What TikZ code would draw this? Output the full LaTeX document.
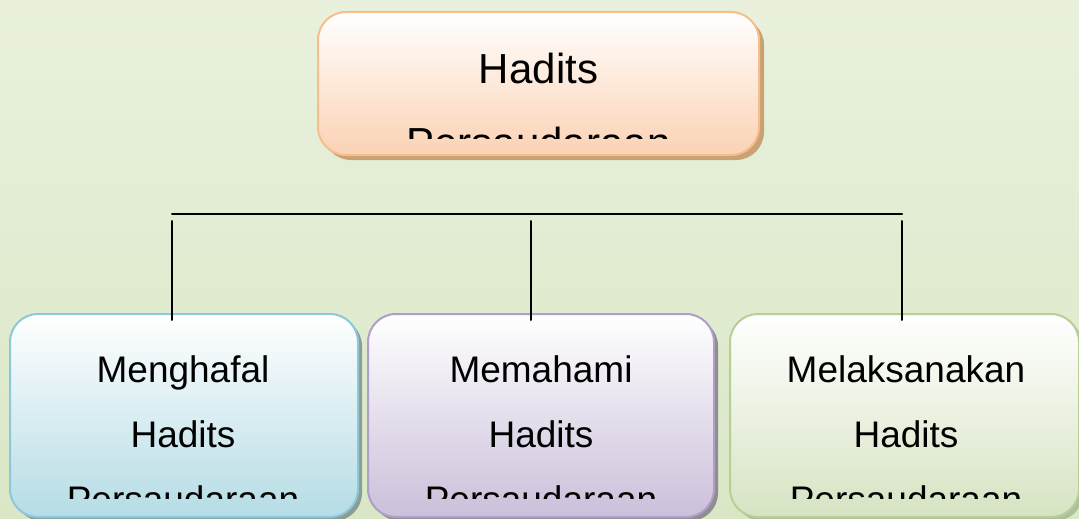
\documentclass[tikz,border=0pt]{standalone}
\usepackage{fontspec}
\setmainfont{Liberation Sans}
\usetikzlibrary{shadows}
\definecolor{bgtop}{HTML}{E9F1DD}
\definecolor{bgbot}{HTML}{DAE7C6}
\definecolor{orline}{HTML}{F7BE8C}
\definecolor{orfill}{HTML}{FBD2B4}
\definecolor{orshad}{HTML}{C9A273}
\definecolor{blline}{HTML}{8CC8DA}
\definecolor{blfill}{HTML}{B5DCE5}
\definecolor{blshad}{HTML}{8A9E93}
\definecolor{puline}{HTML}{AE9EC8}
\definecolor{pufill}{HTML}{CBBFDA}
\definecolor{pushad}{HTML}{8E8E8E}
\definecolor{grline}{HTML}{B7CF97}
\definecolor{grfill}{HTML}{D6E3C2}
\definecolor{grshad}{HTML}{AFBE9C}
\begin{document}
\begin{tikzpicture}[x=1pt,y=-1pt,line cap=round,line join=round,
	box/.style={rectangle,rounded corners=28pt,line width=2pt,inner sep=0pt,outer sep=0pt,minimum height=203pt},
	topbox/.style={box,draw=orline,top color=white,bottom color=orfill,minimum width=441pt,minimum height=143pt,
		drop shadow={shadow xshift=5pt,shadow yshift=-5pt,fill=orshad,opacity=1}},
	bluebox/.style={box,draw=blline,top color=white,bottom color=blfill,minimum width=348pt,
		drop shadow={shadow xshift=4pt,shadow yshift=-4pt,fill=blshad,opacity=1}},
	purplebox/.style={box,draw=puline,top color=white,bottom color=pufill,minimum width=346pt,
		drop shadow={shadow xshift=4pt,shadow yshift=-4pt,fill=pushad,opacity=1}},
	greenbox/.style={box,draw=grline,top color=white,bottom color=grfill,minimum width=349pt,
		drop shadow={shadow xshift=4pt,shadow yshift=-4pt,fill=grshad,opacity=1}},
	toptext/.style={anchor=base,inner sep=0pt,font=\fontsize{42}{42}\selectfont},
	boxtext/.style={anchor=base,inner sep=0pt,font=\fontsize{37}{37}\selectfont},
	link/.style={line width=2pt,black}]
		% background
		\fill[top color=bgtop,bottom color=bgbot] (0,0) rectangle (1079,519);
		\useasboundingbox (0,0) rectangle (1079,519);
		% boxes
		\node[topbox] (hadits) at (538.5,83.5) {};
		\node[bluebox] (menghafal) at (184,415.5) {};
		\node[purplebox] (memahami) at (541,415.5) {};
		\node[greenbox] (melaksanakan) at (904.5,415.5) {};
		% texts, clipped
		\begin{scope}
			\clip (317,12) rectangle (760,138);
			\node[toptext] (hadits-a) at (538.5,83) {Hadits};
			\node[toptext] (hadits-b) at (538.5,157) {Persaudaraan};
		\end{scope}
		\begin{scope}
			\clip (0,314) rectangle (1079,498);
			\node[boxtext] (menghafal-a) at (183,382) {Menghafal};
			\node[boxtext] (menghafal-b) at (183,447) {Hadits};
			\node[boxtext] (menghafal-c) at (183,512) {Persaudaraan};
			\node[boxtext] (memahami-a) at (541,382) {Memahami};
			\node[boxtext] (memahami-b) at (541,447) {Hadits};
			\node[boxtext] (memahami-c) at (541,512) {Persaudaraan};
			\node[boxtext] (melaksanakan-a) at (906,382) {Melaksanakan};
			\node[boxtext] (melaksanakan-b) at (906,447) {Hadits};
			\node[boxtext] (melaksanakan-c) at (906,512) {Persaudaraan};
		\end{scope}
		% connectors
		\coordinate (bar-w) at (172,213.5);
		\coordinate (bar-e) at (902,213.5);
		\coordinate (drop-a) at (172,221);
		\coordinate (drop-b) at (531,221);
		\coordinate (drop-c) at (902,221);
		\draw[link] (bar-w) -- (bar-e);
		\draw[link] (drop-a) -- ([yshift=-6pt]drop-a |- menghafal.north);
		\draw[link] (drop-b) -- ([yshift=-6pt]drop-b |- memahami.north);
		\draw[link] (drop-c) -- ([yshift=-6pt]drop-c |- melaksanakan.north);
\end{tikzpicture}
\end{document}
